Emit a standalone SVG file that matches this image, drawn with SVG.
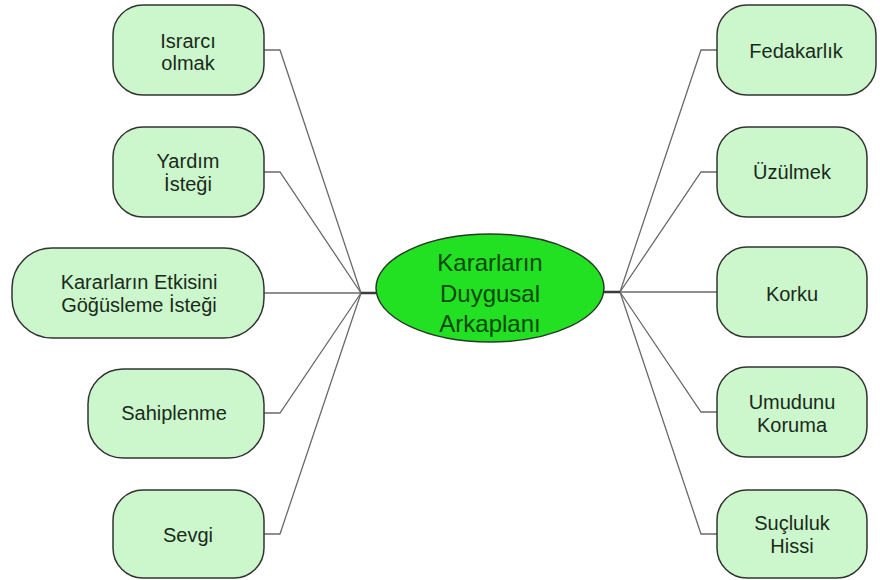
<svg xmlns="http://www.w3.org/2000/svg" width="880" height="580" viewBox="0 0 880 580">
<style>
.node rect{fill:#ccf7cc;stroke:#333;stroke-width:1.5}
.node text,.center text{font-family:"Liberation Sans",Arial,sans-serif;text-anchor:middle;dominant-baseline:central}
.node text{font-size:20px;fill:#1a2a1a}
.center ellipse{fill:#22e022;stroke:#2a3a2a;stroke-width:1.5}
.center text{font-size:24px;fill:#0e480e}
.conn path{fill:none;stroke:#6a6a6a;stroke-width:1.3}
.conn .stub{stroke:#3a3a3a;stroke-width:2.5}
</style>
<rect width="880" height="580" fill="#fff"/>
<g class="conn" id="connectors">
<path d="M264 50 H280 L361 293"/>
<path d="M264 172 H280 L361 293"/>
<path d="M264 293 H361"/>
<path d="M264 413 H280 L361 293"/>
<path d="M264 534 H280 L361 293"/>
<path d="M717 50 H701 L620 292"/>
<path d="M717 172 H701 L620 292"/>
<path d="M717 292 H620"/>
<path d="M717 412 H701 L620 292"/>
<path d="M717 534 H701 L620 292"/>
<path class="stub" d="M361 293 H378"/>
<path class="stub" d="M603 292 H620"/>
</g>
<g class="center" id="center">
<ellipse cx="490" cy="288" rx="114" ry="54"/>
<text x="490" y="262">Kararların</text>
<text x="490" y="293">Duygusal</text>
<text x="490" y="323">Arkaplanı</text>
</g>
<g class="node" id="n-israrci"><rect x="113" y="5" width="151" height="90" rx="30"/><text x="188" y="41">Israrcı</text><text x="188" y="63">olmak</text></g>
<g class="node" id="n-yardim"><rect x="113" y="127" width="151" height="90" rx="30"/><text x="188" y="161">Yardım</text><text x="188" y="184">İsteği</text></g>
<g class="node" id="n-kararlarin"><rect x="12" y="248" width="252" height="90" rx="40"/><text x="139" y="282">Kararların Etkisini</text><text x="139" y="305">Göğüsleme İsteği</text></g>
<g class="node" id="n-sahiplenme"><rect x="88" y="369" width="176" height="89" rx="35"/><text x="174" y="413">Sahiplenme</text></g>
<g class="node" id="n-sevgi"><rect x="113" y="490" width="151" height="88" rx="30"/><text x="188" y="535">Sevgi</text></g>
<g class="node" id="n-fedakarlik"><rect x="717" y="5" width="159" height="90" rx="30"/><text x="796" y="51">Fedakarlık</text></g>
<g class="node" id="n-uzulmek"><rect x="717" y="127" width="150" height="90" rx="30"/><text x="792" y="172">Üzülmek</text></g>
<g class="node" id="n-korku"><rect x="717" y="247" width="150" height="90" rx="30"/><text x="792" y="294">Korku</text></g>
<g class="node" id="n-umudunu"><rect x="717" y="367" width="150" height="90" rx="30"/><text x="792" y="402">Umudunu</text><text x="792" y="425">Koruma</text></g>
<g class="node" id="n-sucluluk"><rect x="717" y="490" width="150" height="88" rx="30"/><text x="792" y="523">Suçluluk</text><text x="792" y="546">Hissi</text></g>
</svg>
